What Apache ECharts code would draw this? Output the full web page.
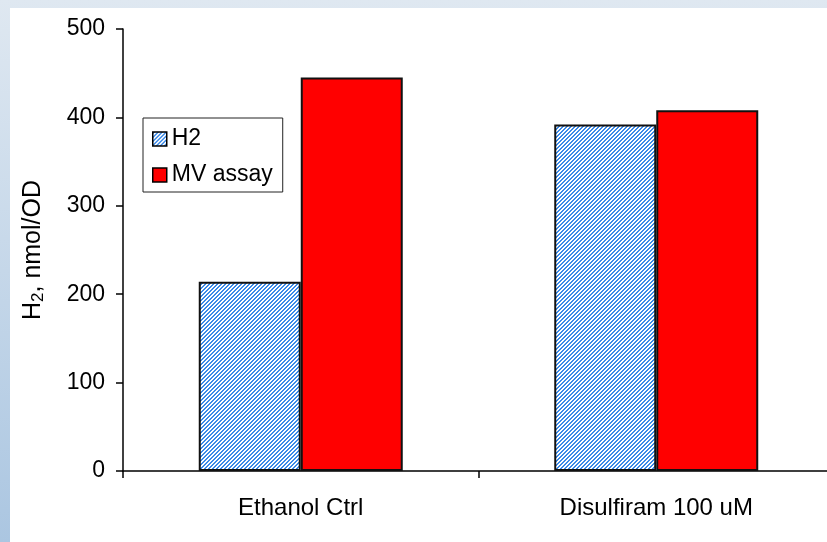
<!DOCTYPE html>
<html>
<head>
<meta charset="utf-8">
<script src="https://cdn.jsdelivr.net/npm/echarts@6/dist/echarts.min.js"></script>
<style>
html,body{margin:0;padding:0;background:#fff;}
#chart{width:827px;height:542px;}
</style>
</head>
<body>
<div id="chart"></div>
<script>
const categories = ['Ethanol Ctrl', 'Disulfiram 100 uM'];
const h2Values = [214, 392];
const mvValues = [445, 408];
const seriesNames = ['H2', 'MV assay'];
const yTicks = [0, 100, 200, 300, 400, 500];

// diagonal hatch pattern
const pc = document.createElement('canvas');
pc.width = 4; pc.height = 4;
const ctx = pc.getContext('2d');
ctx.fillStyle = '#ffffff';
ctx.fillRect(0, 0, 4, 4);
ctx.fillStyle = '#3b8ae8';
for (let x = 0; x < 4; x++) {
  for (let y = 0; y < 4; y++) {
    if ((x + y) % 4 < 2) ctx.fillRect(x, y, 1, 1);
  }
}
const hatch = { image: pc, repeat: 'repeat' };

const chart = echarts.init(document.getElementById('chart'), null, { renderer: 'canvas' });
const font = 'Liberation Sans, Arial, sans-serif';

chart.setOption({
  animation: false,
  backgroundColor: {
    type: 'linear', x: 0, y: 0, x2: 0, y2: 1,
    colorStops: [{ offset: 0, color: '#dfe8f1' }, { offset: 1, color: '#abc6e1' }]
  },
  graphic: [{
    type: 'rect', left: 10, top: 8, z: -10,
    shape: { width: 817, height: 534 },
    style: { fill: '#ffffff' }
  }],
  grid: { left: 123, top: 29, width: 711, height: 442, outerBoundsMode: 'none', containLabel: false },
  legend: {
    orient: 'vertical',
    left: 143, top: 118,
    backgroundColor: '#ffffff',
    borderColor: '#222',
    borderWidth: 1,
    padding: [9, 10, 5, 9],
    itemWidth: 14, itemHeight: 14,
    itemGap: 12,
    textStyle: { fontFamily: font, fontSize: 23, color: '#000', lineHeight: 24 },
    data: [
      { name: seriesNames[0], icon: 'rect', itemStyle: { color: hatch, borderColor: '#000', borderWidth: 1.5 } },
      { name: seriesNames[1], icon: 'rect', itemStyle: { color: '#ff0000', borderColor: '#000', borderWidth: 1.5 } }
    ]
  },
  xAxis: {
    type: 'category',
    data: categories,
    axisLine: { lineStyle: { color: '#000', width: 1.5 } },
    axisTick: { show: true, length: 7, lineStyle: { color: '#000', width: 1.5 } },
    axisLabel: { fontFamily: font, fontSize: 24, color: '#000', margin: 25 }
  },
  yAxis: {
    type: 'value',
    min: 0, max: 500, interval: 100,
    name: '{a|H}{b|2}{a|, nmol/OD}',
    nameLocation: 'middle',
    nameGap: 76,
    nameRotate: 90,
    nameTextStyle: {
      rich: {
        a: { fontFamily: font, fontSize: 25, color: '#000', lineHeight: 28 },
        b: { fontFamily: font, fontSize: 17, color: '#000', lineHeight: 17, verticalAlign: 'bottom' }
      }
    },
    splitLine: { show: false },
    axisLine: { show: true, lineStyle: { color: '#000', width: 1.5 } },
    axisTick: { show: true, length: 7, lineStyle: { color: '#000', width: 1.5 } },
    axisLabel: {
      fontFamily: font, fontSize: 23, color: '#000', margin: 18,
      formatter: v => yTicks.includes(v) ? String(v) : ''
    }
  },
  series: [
    {
      name: seriesNames[0], type: 'bar', data: h2Values,
      barWidth: 102, barGap: '0%',
      itemStyle: { color: hatch, borderColor: '#111', borderWidth: 2 }
    },
    {
      name: seriesNames[1], type: 'bar', data: mvValues,
      barWidth: 102, barGap: '0%',
      itemStyle: { color: '#ff0000', borderColor: '#111', borderWidth: 2 }
    }
  ]
});
</script>
</body>
</html>
